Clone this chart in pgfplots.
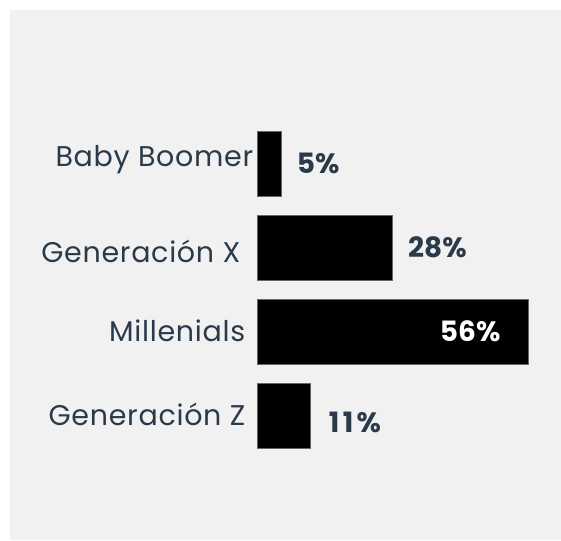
\documentclass[border=0pt]{standalone}
\usepackage{fontspec}
\setmainfont{Poppins}
\usepackage{pgfplots}
\pgfplotsset{compat=1.18}
\definecolor{bg}{HTML}{F1F1F1}
\definecolor{txt}{HTML}{2B3A4B}
\begin{document}
\begin{tikzpicture}[x=1pt,y=1pt]
\fill[white] (0,0) rectangle (561,540);
\fill[bg] (10,0) rectangle (561,530);
\begin{axis}[
  at={(257pt,82.5pt)}, anchor=south west,
  scale only axis, width=271pt, height=336pt,
  xmin=0, xmax=56, ymin=-0.5, ymax=3.5,
  axis line style={draw=none}, tick style={draw=none},
  xtick=\empty, ytick={0,1,2,3},
  yticklabels={Generación Z, Millenials, \raisebox{-5pt}{Generación X}\kern5pt\relax, \raisebox{7pt}{Baby Boomer}\kern-8pt\relax},
  yticklabel style={font=\fontsize{28.5}{32}\selectfont\addfontfeatures{LetterSpace=2.5}, text=txt, anchor=base east, xshift=-4pt, yshift=-10pt},
  xbar, bar width=65pt,
  point meta=x,
  /pgf/number format/assume math mode=true,
  nodes near coords={\pgfmathprintnumber{\pgfplotspointmeta}\%},
  nodes near coords style={font=\bfseries\fontsize{28}{32}\selectfont, text=txt, anchor=west},
  every axis plot/.append style={bar shift=0pt, fill=black, draw=black!60, line width=0.6pt},
  clip=false,
]
\addplot[nodes near coords style={xshift=15pt, yshift=-7pt, font=\bfseries\fontsize{28}{32}\selectfont\addfontfeatures{LetterSpace=12}}] coordinates {(11,0)};
\addplot[nodes near coords style={anchor=east, xshift=-24pt, text=white}] coordinates {(56,1)};
\addplot[nodes near coords style={xshift=12pt}] coordinates {(28,2)};
\addplot[nodes near coords style={xshift=12pt}] coordinates {(5,3)};
\end{axis}
\pgfresetboundingbox
\path[use as bounding box] (0,0) rectangle (561,540);
\end{tikzpicture}
\end{document}
